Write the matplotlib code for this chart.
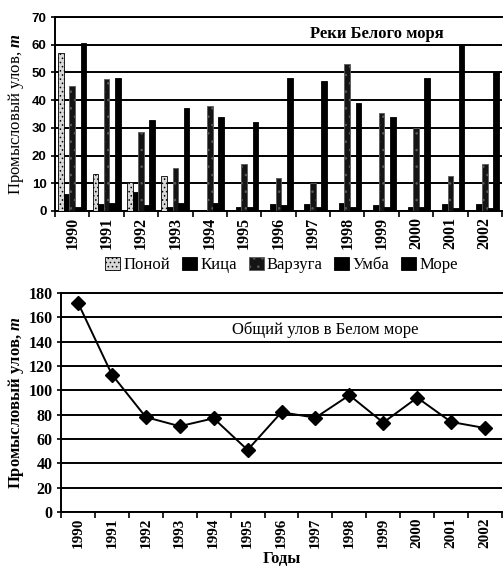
import matplotlib.pyplot as plt
import numpy as np

years = ['1990', '1991', '1992', '1993', '1994', '1995', '1996',
         '1997', '1998', '1999', '2000', '2001', '2002']
ponoy = [57, 13.5, 10.5, 12.5, 0, 0, 0, 0, 0, 0, 0, 0, 0]
kitsa = [6, 2.5, 7, 1.5, 0.5, 1.5, 2.5, 2.5, 3, 2, 1.5, 2.5, 2.5]
varzuga = [45, 47.5, 28.5, 15.5, 38, 17, 12, 10, 53, 35.5, 30, 12.5, 17]
umba = [1.5, 3, 2, 3, 3, 1.5, 2, 1.5, 1.5, 1.5, 1.5, 1, 1]
more = [60.5, 48, 33, 37, 34, 32, 48, 47, 39, 34, 48, 60, 50]
total = [172, 113, 78, 70.5, 77, 51, 82, 77.5, 96, 73.5, 94, 74, 69]

series = [('Поной', ponoy), ('Кица', kitsa), ('Варзуга', varzuga),
          ('Умба', umba), ('Море', more)]
colors = ['#d8d8d8', 'black', '#151515', 'black', 'black']
hatches = ['....', None, '..', None, None]

plt.rcParams['font.family'] = ['Liberation Serif', 'DejaVu Serif']
plt.rcParams['mathtext.fontset'] = 'custom'
plt.rcParams['mathtext.it'] = 'Liberation Serif:italic:bold'
plt.rcParams['hatch.linewidth'] = 0.6

fig = plt.figure(figsize=(5.03, 5.71), dpi=100)
x = np.arange(len(years))

# --- top: rivers
ax1 = fig.add_axes([55 / 503, 1 - 211 / 571, 447 / 503, 194 / 571])
w = 0.163
for i, (name, vals) in enumerate(series):
    ax1.bar(x + (i - 2) * w, vals, width=w, color=colors[i], hatch=hatches[i],
            edgecolor='black' if i != 2 else '#5a5a5a', linewidth=0.6,
            label=name, zorder=3)
ax1.set_xlim(-0.5, 12.5)
ax1.set_ylim(0, 70)
ax1.set_yticks(range(0, 71, 10))
ax1.yaxis.grid(True, color='black', lw=1.4, zorder=0)
ax1.set_xticks(x)
ax1.set_xticklabels(years, rotation=90, fontsize=11.5, fontweight='bold')
ax1.set_xticks(np.arange(-0.5, 13, 1), minor=True)
ax1.tick_params(axis='x', which='major', length=0, pad=4)
ax1.tick_params(axis='x', which='minor', length=4, width=1.2)
ax1.tick_params(axis='y', length=3, width=1.2, pad=3)
for lab in ax1.get_yticklabels():
    lab.set_family('Liberation Sans')
    lab.set_fontweight('bold')
    lab.set_fontsize(9.5)
ax1.spines['right'].set_visible(False)
for s in ['left', 'bottom', 'top']:
    ax1.spines[s].set_linewidth(1.4)
ax1.set_ylabel('Промысловый улов, $\\it{т}$', fontsize=12, labelpad=4)
ax1.text(0.72, 0.91, 'Реки Белого моря', transform=ax1.transAxes,
         ha='center', va='center', fontsize=12, fontweight='bold')
fig.legend(loc='center', bbox_to_anchor=(0.56, 1 - 265 / 571), ncol=5,
           frameon=False, fontsize=12, handlelength=0.9, handleheight=0.9,
           handletextpad=0.2, columnspacing=0.7, borderaxespad=0)

# --- bottom: total catch
ax2 = fig.add_axes([61 / 503, 1 - 512 / 571, 441 / 503, 219 / 571])
ax2.plot(x, total, color='black', lw=1.4, marker='D', markersize=7, zorder=3)
ax2.set_xlim(-0.5, 12.5)
ax2.set_ylim(0, 180)
ax2.set_yticks(range(0, 181, 20))
ax2.yaxis.grid(True, color='black', lw=1.4, zorder=0)
ax2.set_xticks(x)
ax2.set_xticklabels(years, rotation=90, fontsize=11, fontweight='bold')
ax2.set_xticks(np.arange(-0.5, 13, 1), minor=True)
ax2.tick_params(axis='x', which='major', length=0, pad=4)
ax2.tick_params(axis='x', which='minor', length=4, width=1.2)
ax2.tick_params(axis='y', length=3, width=1.2, pad=3, labelsize=11.5)
for lab in ax2.get_yticklabels():
    lab.set_fontweight('bold')
ax2.spines['right'].set_visible(False)
for s in ['left', 'bottom', 'top']:
    ax2.spines[s].set_linewidth(1.4)
ax2.set_ylabel('Промысловый улов, $\\it{т}$', fontsize=12, fontweight='bold', labelpad=2)
ax2.set_xlabel('Годы', fontsize=12, fontweight='bold', labelpad=2)
ax2.text(0.6, 0.83, 'Общий улов в Белом море', transform=ax2.transAxes,
         ha='center', va='center', fontsize=12)

fig.savefig('out.png', dpi=100)
